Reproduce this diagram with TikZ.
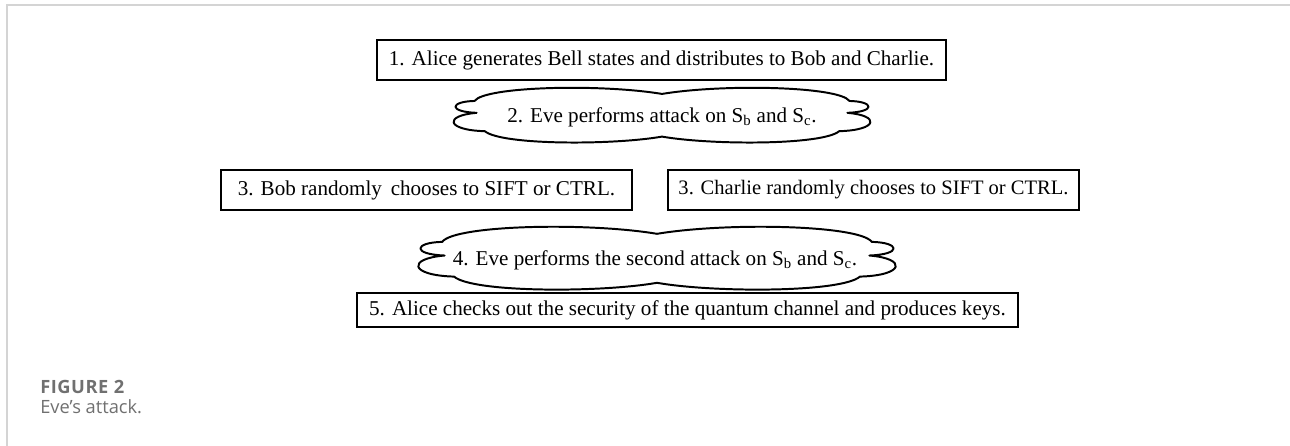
\documentclass[tikz,border=0pt]{standalone}
\usepackage{fontspec}
\setmainfont{Liberation Serif}
\newfontfamily\capfont{Open Sans}
\newfontfamily\capfontwide{Open Sans}[LetterSpace=3]

\definecolor{framegray}{RGB}{212,212,212}
\definecolor{capgray}{RGB}{112,112,112}

\tikzset{
  stepbox/.style={draw=black, line width=1.4pt, inner sep=0pt, minimum height=1cm, font=\fontsize{15}{17}\selectfont},
  cloudtext/.style={inner sep=0pt, font=\fontsize{15}{17}\selectfont},
  cloudline/.style={draw=black, line width=1.4pt, line join=round}
}

% cloud outline: centre x, centre y, half width, half height (pixel units)
\newcommand{\evecloud}[4]{%
\begin{scope}[shift={(#1,#2)}, xscale=#3, yscale=-#4]
\draw[cloudline] (0,0.78) .. controls (-0.3,1.16) and (-0.86,1.06) .. (-0.91,0.52)
  .. controls (-1.03,0.5) and (-1.04,0.12) .. (-0.9,0.08)
  .. controls (-1.06,-0.02) and (-1.05,-0.56) .. (-0.86,-0.6)
  .. controls (-0.78,-1.12) and (-0.24,-1.12) .. (0,-0.8)
  .. controls (0.24,-1.12) and (0.78,-1.12) .. (0.86,-0.6)
  .. controls (1.05,-0.56) and (1.06,-0.02) .. (0.9,0.08)
  .. controls (1.04,0.12) and (1.03,0.5) .. (0.91,0.52)
  .. controls (0.86,1.06) and (0.3,1.16) .. (0,0.78) -- cycle;
\end{scope}}

\begin{document}
\begin{tikzpicture}[x=0.025cm, y=-0.025cm]

\useasboundingbox (0,0) rectangle (1290,446);

%Rahmen
\draw[framegray, line width=1.1pt] (7,446) -- (7,5) -- (1290,5);

%Schritt 1
\node[stepbox, minimum width=14.22cm] (alice) at (661.5,60) {1. Alice generates Bell states and distributes to Bob and Charlie.};

%Schritt 2 (Wolke)
\evecloud{662}{115}{206}{27}
\node[cloudtext] (attack) at (662,117) {2. Eve performs attack on S\textsubscript{b} and S\textsubscript{c}.};

%Schritt 3
\node[stepbox, minimum width=10.28cm] (bob) at (426.5,190) {3. Bob randomly\, chooses to SIFT or CTRL.};
\node[stepbox, minimum width=10.28cm, font=\fontsize{14.6}{17}\selectfont] (charlie) at (873.5,190) {3. Charlie randomly chooses to SIFT or CTRL.};

%Schritt 4 (Wolke)
\evecloud{657}{258}{236}{31}
\node[cloudtext] (second) at (655,260) {4. Eve performs the second attack on S\textsubscript{b} and S\textsubscript{c}.};

%Schritt 5
\node[stepbox, minimum width=16.52cm, minimum height=0.85cm] (keys) at (687.5,310) {5. Alice checks out the security of the quantum channel and produces keys.};

%Bildunterschrift
\node[anchor=base west, inner sep=0pt, text=capgray, font=\capfontwide\bfseries\fontsize{13}{15}\selectfont] (figlabel) at (40,393) {FIGURE 2};
\node[anchor=base west, inner sep=0pt, text=capgray, font=\capfont\fontsize{13}{15}\selectfont] (figtitle) at (40,413) {Eve’s attack.};

\end{tikzpicture}
\end{document}
